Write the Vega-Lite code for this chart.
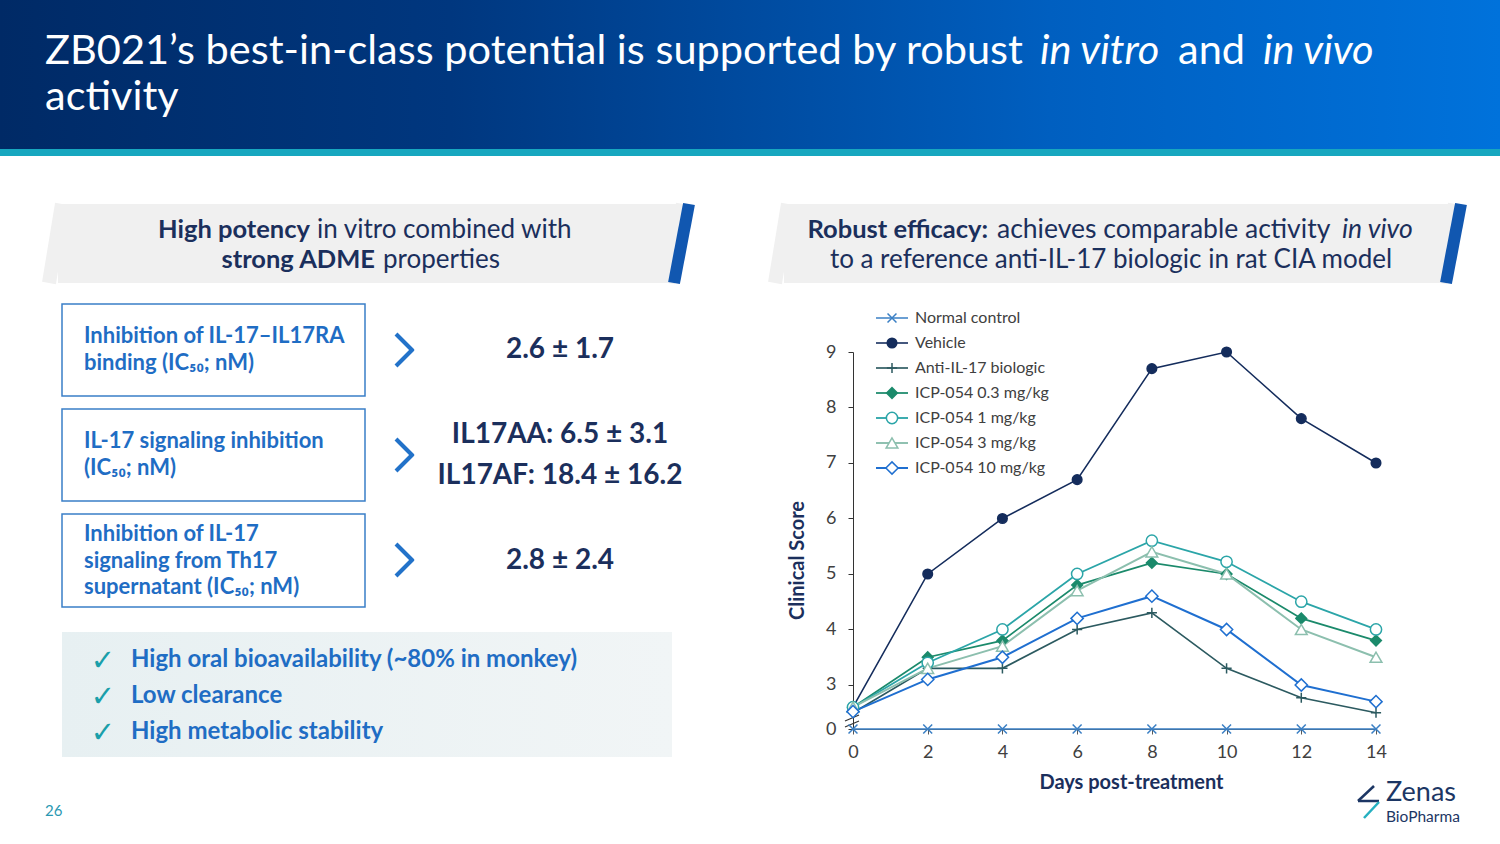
{
  "$schema": "https://vega.github.io/schema/vega-lite/v6.json",
  "width": 1500,
  "height": 844,
  "padding": 0,
  "autosize": {"type": "none"},
  "background": "#ffffff",
  "config": {"view": {"stroke": null}, "font": "Lato", "text": {"font": "Lato"}},
  "datasets": {
    "scores": [
      {"series": "Normal control", "day": 0, "score": 0}, {"series": "Normal control", "day": 2, "score": 0}, {"series": "Normal control", "day": 4, "score": 0}, {"series": "Normal control", "day": 6, "score": 0}, {"series": "Normal control", "day": 8, "score": 0}, {"series": "Normal control", "day": 10, "score": 0}, {"series": "Normal control", "day": 12, "score": 0}, {"series": "Normal control", "day": 14, "score": 0},
      {"series": "Vehicle", "day": 0, "score": 2.6}, {"series": "Vehicle", "day": 2, "score": 5.0}, {"series": "Vehicle", "day": 4, "score": 6.0}, {"series": "Vehicle", "day": 6, "score": 6.7}, {"series": "Vehicle", "day": 8, "score": 8.7}, {"series": "Vehicle", "day": 10, "score": 9.0}, {"series": "Vehicle", "day": 12, "score": 7.8}, {"series": "Vehicle", "day": 14, "score": 7.0},
      {"series": "Anti-IL-17 biologic", "day": 0, "score": 2.5}, {"series": "Anti-IL-17 biologic", "day": 2, "score": 3.3}, {"series": "Anti-IL-17 biologic", "day": 4, "score": 3.3}, {"series": "Anti-IL-17 biologic", "day": 6, "score": 4.0}, {"series": "Anti-IL-17 biologic", "day": 8, "score": 4.3}, {"series": "Anti-IL-17 biologic", "day": 10, "score": 3.3}, {"series": "Anti-IL-17 biologic", "day": 12, "score": 2.77}, {"series": "Anti-IL-17 biologic", "day": 14, "score": 2.5},
      {"series": "ICP-054 0.3 mg/kg", "day": 0, "score": 2.6}, {"series": "ICP-054 0.3 mg/kg", "day": 2, "score": 3.5}, {"series": "ICP-054 0.3 mg/kg", "day": 4, "score": 3.8}, {"series": "ICP-054 0.3 mg/kg", "day": 6, "score": 4.8}, {"series": "ICP-054 0.3 mg/kg", "day": 8, "score": 5.2}, {"series": "ICP-054 0.3 mg/kg", "day": 10, "score": 5.0}, {"series": "ICP-054 0.3 mg/kg", "day": 12, "score": 4.2}, {"series": "ICP-054 0.3 mg/kg", "day": 14, "score": 3.8},
      {"series": "ICP-054 1 mg/kg", "day": 0, "score": 2.6}, {"series": "ICP-054 1 mg/kg", "day": 2, "score": 3.4}, {"series": "ICP-054 1 mg/kg", "day": 4, "score": 4.0}, {"series": "ICP-054 1 mg/kg", "day": 6, "score": 5.0}, {"series": "ICP-054 1 mg/kg", "day": 8, "score": 5.6}, {"series": "ICP-054 1 mg/kg", "day": 10, "score": 5.22}, {"series": "ICP-054 1 mg/kg", "day": 12, "score": 4.5}, {"series": "ICP-054 1 mg/kg", "day": 14, "score": 4.0},
      {"series": "ICP-054 3 mg/kg", "day": 0, "score": 2.6}, {"series": "ICP-054 3 mg/kg", "day": 2, "score": 3.3}, {"series": "ICP-054 3 mg/kg", "day": 4, "score": 3.7}, {"series": "ICP-054 3 mg/kg", "day": 6, "score": 4.7}, {"series": "ICP-054 3 mg/kg", "day": 8, "score": 5.4}, {"series": "ICP-054 3 mg/kg", "day": 10, "score": 5.0}, {"series": "ICP-054 3 mg/kg", "day": 12, "score": 4.0}, {"series": "ICP-054 3 mg/kg", "day": 14, "score": 3.5},
      {"series": "ICP-054 10 mg/kg", "day": 0, "score": 2.52}, {"series": "ICP-054 10 mg/kg", "day": 2, "score": 3.1}, {"series": "ICP-054 10 mg/kg", "day": 4, "score": 3.5}, {"series": "ICP-054 10 mg/kg", "day": 6, "score": 4.2}, {"series": "ICP-054 10 mg/kg", "day": 8, "score": 4.6}, {"series": "ICP-054 10 mg/kg", "day": 10, "score": 4.0}, {"series": "ICP-054 10 mg/kg", "day": 12, "score": 3.0}, {"series": "ICP-054 10 mg/kg", "day": 14, "score": 2.7}
    ],
    "legend": [
      {"series": "Normal control"}, {"series": "Vehicle"}, {"series": "Anti-IL-17 biologic"}, {"series": "ICP-054 0.3 mg/kg"}, {"series": "ICP-054 1 mg/kg"}, {"series": "ICP-054 3 mg/kg"}, {"series": "ICP-054 10 mg/kg"}
    ]
  },
  "resolve": {"scale": {"x": "independent", "y": "independent", "color": "independent", "shape": "independent", "fill": "independent", "size": "independent", "strokeWidth": "independent"}},
  "layer": [
    {"data": {"values": [{}]}, "mark": {"type": "rect", "x": 0, "x2": 1500, "y": 0, "y2": 150, "fill": {"gradient": "linear", "x1": 0, "y1": 0, "x2": 1, "y2": 0, "stops": [{"offset": 0, "color": "#002a66"}, {"offset": 0.3, "color": "#00377f"}, {"offset": 0.7, "color": "#005fc0"}, {"offset": 1, "color": "#0072db"}]}}, "encoding": {}},
    {"data": {"values": [{}]}, "mark": {"type": "rect", "x": 0, "x2": 1500, "y": 149, "y2": 156, "fill": "#17a7bf"}, "encoding": {}},
    {"data": {"values": [{"t": "ZB021’s best-in-class potential is supported by robust"}]}, "mark": {"type": "text", "x": 45, "y": 64, "align": "left", "baseline": "alphabetic", "fontSize": 41.5, "color": "#ffffff"}, "encoding": {"text": {"field": "t"}}},
    {"data": {"values": [{"t": "in vitro"}]}, "mark": {"type": "text", "x": 1040, "y": 64, "align": "left", "baseline": "alphabetic", "fontSize": 41.5, "fontStyle": "italic", "color": "#ffffff"}, "encoding": {"text": {"field": "t"}}},
    {"data": {"values": [{"t": "and"}]}, "mark": {"type": "text", "x": 1178, "y": 64, "align": "left", "baseline": "alphabetic", "fontSize": 41.5, "color": "#ffffff"}, "encoding": {"text": {"field": "t"}}},
    {"data": {"values": [{"t": "in vivo"}]}, "mark": {"type": "text", "x": 1263, "y": 64, "align": "left", "baseline": "alphabetic", "fontSize": 41.5, "fontStyle": "italic", "color": "#ffffff"}, "encoding": {"text": {"field": "t"}}},
    {"data": {"values": [{"t": "activity"}]}, "mark": {"type": "text", "x": 45, "y": 110, "align": "left", "baseline": "alphabetic", "fontSize": 41.5, "color": "#ffffff"}, "encoding": {"text": {"field": "t"}}},

    {"data": {"values": [{}]}, "mark": {"type": "rect", "x": 58, "x2": 676, "y": 204, "y2": 283, "fill": "#f0f0f0"}, "encoding": {}},
    {"data": {"values": [{}]}, "mark": {"type": "rule", "stroke": "#f0f0f0", "strokeWidth": 14, "strokeCap": "butt"}, "encoding": {"x": {"value": 62}, "y": {"value": 204}, "x2": {"value": 49}, "y2": {"value": 283}}},
    {"data": {"values": [{}]}, "mark": {"type": "rule", "stroke": "#f0f0f0", "strokeWidth": 14, "strokeCap": "butt"}, "encoding": {"x": {"value": 683}, "y": {"value": 204}, "x2": {"value": 668}, "y2": {"value": 283}}},
    {"data": {"values": [{}]}, "mark": {"type": "rule", "stroke": "#1157b0", "strokeWidth": 12, "strokeCap": "butt"}, "encoding": {"x": {"value": 689}, "y": {"value": 204}, "x2": {"value": 674}, "y2": {"value": 283}}},
    {"data": {"values": [{"t": "High potency"}]}, "mark": {"type": "text", "x": 310, "y": 230, "align": "right", "baseline": "middle", "fontSize": 25.5, "fontWeight": "bold", "color": "#1b2f5c"}, "encoding": {"text": {"field": "t"}}},
    {"data": {"values": [{"t": "in vitro combined with"}]}, "mark": {"type": "text", "x": 317, "y": 230, "align": "left", "baseline": "middle", "fontSize": 26, "color": "#1b2f5c"}, "encoding": {"text": {"field": "t"}}},
    {"data": {"values": [{"t": "strong ADME"}]}, "mark": {"type": "text", "x": 375, "y": 260, "align": "right", "baseline": "middle", "fontSize": 25.5, "fontWeight": "bold", "color": "#1b2f5c"}, "encoding": {"text": {"field": "t"}}},
    {"data": {"values": [{"t": "properties"}]}, "mark": {"type": "text", "x": 383, "y": 260, "align": "left", "baseline": "middle", "fontSize": 26, "color": "#1b2f5c"}, "encoding": {"text": {"field": "t"}}},

    {"data": {"values": [{}]}, "mark": {"type": "rect", "x": 784, "x2": 1448, "y": 204, "y2": 283, "fill": "#f0f0f0"}, "encoding": {}},
    {"data": {"values": [{}]}, "mark": {"type": "rule", "stroke": "#f0f0f0", "strokeWidth": 14, "strokeCap": "butt"}, "encoding": {"x": {"value": 788}, "y": {"value": 204}, "x2": {"value": 775}, "y2": {"value": 283}}},
    {"data": {"values": [{}]}, "mark": {"type": "rule", "stroke": "#f0f0f0", "strokeWidth": 14, "strokeCap": "butt"}, "encoding": {"x": {"value": 1455}, "y": {"value": 204}, "x2": {"value": 1440}, "y2": {"value": 283}}},
    {"data": {"values": [{}]}, "mark": {"type": "rule", "stroke": "#1157b0", "strokeWidth": 12, "strokeCap": "butt"}, "encoding": {"x": {"value": 1461}, "y": {"value": 204}, "x2": {"value": 1446}, "y2": {"value": 283}}},
    {"data": {"values": [{"t": "Robust efficacy:"}]}, "mark": {"type": "text", "x": 988, "y": 230, "align": "right", "baseline": "middle", "fontSize": 25.5, "fontWeight": "bold", "color": "#1b2f5c"}, "encoding": {"text": {"field": "t"}}},
    {"data": {"values": [{"t": "achieves comparable activity"}]}, "mark": {"type": "text", "x": 997, "y": 230, "align": "left", "baseline": "middle", "fontSize": 26.5, "color": "#1b2f5c"}, "encoding": {"text": {"field": "t"}}},
    {"data": {"values": [{"t": "in vivo"}]}, "mark": {"type": "text", "x": 1342, "y": 230, "align": "left", "baseline": "middle", "fontSize": 26.5, "fontStyle": "italic", "color": "#1b2f5c"}, "encoding": {"text": {"field": "t"}}},
    {"data": {"values": [{"t": "to a reference anti-IL-17 biologic in rat CIA model"}]}, "mark": {"type": "text", "x": 1111, "y": 260, "align": "center", "baseline": "middle", "fontSize": 26, "color": "#1b2f5c"}, "encoding": {"text": {"field": "t"}}},

    {"data": {"values": [{}]}, "mark": {"type": "rect", "x": 62, "x2": 365, "y": 304, "y2": 396, "fill": "#ffffff", "stroke": "#3a7fc8", "strokeWidth": 1.5}, "encoding": {}},
    {"data": {"values": [{}]}, "mark": {"type": "rect", "x": 62, "x2": 365, "y": 409, "y2": 501, "fill": "#ffffff", "stroke": "#3a7fc8", "strokeWidth": 1.5}, "encoding": {}},
    {"data": {"values": [{}]}, "mark": {"type": "rect", "x": 62, "x2": 365, "y": 514, "y2": 607, "fill": "#ffffff", "stroke": "#3a7fc8", "strokeWidth": 1.5}, "encoding": {}},
    {"data": {"values": [{"t": "Inhibition of IL-17–IL17RA"}]}, "mark": {"type": "text", "x": 84, "y": 336, "align": "left", "baseline": "middle", "fontSize": 22, "fontWeight": "bold", "color": "#1f6dc4"}, "encoding": {"text": {"field": "t"}}},
    {"data": {"values": [{"t": "binding (IC₅₀; nM)"}]}, "mark": {"type": "text", "x": 84, "y": 363, "align": "left", "baseline": "middle", "fontSize": 22, "fontWeight": "bold", "color": "#1f6dc4"}, "encoding": {"text": {"field": "t"}}},
    {"data": {"values": [{"t": "IL-17 signaling inhibition"}]}, "mark": {"type": "text", "x": 84, "y": 441, "align": "left", "baseline": "middle", "fontSize": 22, "fontWeight": "bold", "color": "#1f6dc4"}, "encoding": {"text": {"field": "t"}}},
    {"data": {"values": [{"t": "(IC₅₀; nM)"}]}, "mark": {"type": "text", "x": 84, "y": 468, "align": "left", "baseline": "middle", "fontSize": 22, "fontWeight": "bold", "color": "#1f6dc4"}, "encoding": {"text": {"field": "t"}}},
    {"data": {"values": [{"t": "Inhibition of IL-17"}]}, "mark": {"type": "text", "x": 84, "y": 534, "align": "left", "baseline": "middle", "fontSize": 22, "fontWeight": "bold", "color": "#1f6dc4"}, "encoding": {"text": {"field": "t"}}},
    {"data": {"values": [{"t": "signaling from Th17"}]}, "mark": {"type": "text", "x": 84, "y": 561, "align": "left", "baseline": "middle", "fontSize": 22, "fontWeight": "bold", "color": "#1f6dc4"}, "encoding": {"text": {"field": "t"}}},
    {"data": {"values": [{"t": "supernatant (IC₅₀; nM)"}]}, "mark": {"type": "text", "x": 84, "y": 587, "align": "left", "baseline": "middle", "fontSize": 22, "fontWeight": "bold", "color": "#1f6dc4"}, "encoding": {"text": {"field": "t"}}},

    {"data": {"values": [{}]}, "mark": {"type": "rule", "stroke": "#2272c9", "strokeWidth": 4, "strokeCap": "butt"}, "encoding": {"x": {"value": 396}, "y": {"value": 334}, "x2": {"value": 413}, "y2": {"value": 351}}},
    {"data": {"values": [{}]}, "mark": {"type": "rule", "stroke": "#2272c9", "strokeWidth": 4, "strokeCap": "butt"}, "encoding": {"x": {"value": 413}, "y": {"value": 349}, "x2": {"value": 396}, "y2": {"value": 366}}},
    {"data": {"values": [{}]}, "mark": {"type": "rule", "stroke": "#2272c9", "strokeWidth": 4, "strokeCap": "butt"}, "encoding": {"x": {"value": 396}, "y": {"value": 439}, "x2": {"value": 413}, "y2": {"value": 456}}},
    {"data": {"values": [{}]}, "mark": {"type": "rule", "stroke": "#2272c9", "strokeWidth": 4, "strokeCap": "butt"}, "encoding": {"x": {"value": 413}, "y": {"value": 454}, "x2": {"value": 396}, "y2": {"value": 471}}},
    {"data": {"values": [{}]}, "mark": {"type": "rule", "stroke": "#2272c9", "strokeWidth": 4, "strokeCap": "butt"}, "encoding": {"x": {"value": 396}, "y": {"value": 544}, "x2": {"value": 413}, "y2": {"value": 561}}},
    {"data": {"values": [{}]}, "mark": {"type": "rule", "stroke": "#2272c9", "strokeWidth": 4, "strokeCap": "butt"}, "encoding": {"x": {"value": 413}, "y": {"value": 559}, "x2": {"value": 396}, "y2": {"value": 576}}},

    {"data": {"values": [{"t": "2.6 ± 1.7"}]}, "mark": {"type": "text", "x": 560, "y": 350, "align": "center", "baseline": "middle", "fontSize": 28, "fontWeight": "bold", "color": "#1b2f5c"}, "encoding": {"text": {"field": "t"}}},
    {"data": {"values": [{"t": "IL17AA: 6.5 ± 3.1"}]}, "mark": {"type": "text", "x": 560, "y": 435, "align": "center", "baseline": "middle", "fontSize": 28, "fontWeight": "bold", "color": "#1b2f5c"}, "encoding": {"text": {"field": "t"}}},
    {"data": {"values": [{"t": "IL17AF: 18.4 ± 16.2"}]}, "mark": {"type": "text", "x": 560, "y": 476, "align": "center", "baseline": "middle", "fontSize": 28, "fontWeight": "bold", "color": "#1b2f5c"}, "encoding": {"text": {"field": "t"}}},
    {"data": {"values": [{"t": "2.8 ± 2.4"}]}, "mark": {"type": "text", "x": 560, "y": 561, "align": "center", "baseline": "middle", "fontSize": 28, "fontWeight": "bold", "color": "#1b2f5c"}, "encoding": {"text": {"field": "t"}}},

    {"data": {"values": [{}]}, "mark": {"type": "rect", "x": 62, "x2": 672, "y": 632, "y2": 757, "fill": {"gradient": "linear", "x1": 0, "y1": 0, "x2": 1, "y2": 0, "stops": [{"offset": 0, "color": "#e7f0f2"}, {"offset": 1, "color": "#f1f5f6"}]}}, "encoding": {}},
    {"data": {"values": [{"t": "✓"}]}, "mark": {"type": "text", "x": 103, "y": 661, "align": "center", "baseline": "middle", "fontSize": 29, "fontWeight": "bold", "font": "DejaVu Sans", "color": "#1a9faa"}, "encoding": {"text": {"field": "t"}}},
    {"data": {"values": [{"t": "✓"}]}, "mark": {"type": "text", "x": 103, "y": 697, "align": "center", "baseline": "middle", "fontSize": 29, "fontWeight": "bold", "font": "DejaVu Sans", "color": "#1a9faa"}, "encoding": {"text": {"field": "t"}}},
    {"data": {"values": [{"t": "✓"}]}, "mark": {"type": "text", "x": 103, "y": 733, "align": "center", "baseline": "middle", "fontSize": 29, "fontWeight": "bold", "font": "DejaVu Sans", "color": "#1a9faa"}, "encoding": {"text": {"field": "t"}}},
    {"data": {"values": [{"t": "High oral bioavailability (~80% in monkey)"}]}, "mark": {"type": "text", "x": 131, "y": 660, "align": "left", "baseline": "middle", "fontSize": 24, "fontWeight": "bold", "color": "#1f6dc4"}, "encoding": {"text": {"field": "t"}}},
    {"data": {"values": [{"t": "Low clearance"}]}, "mark": {"type": "text", "x": 131, "y": 696, "align": "left", "baseline": "middle", "fontSize": 24, "fontWeight": "bold", "color": "#1f6dc4"}, "encoding": {"text": {"field": "t"}}},
    {"data": {"values": [{"t": "High metabolic stability"}]}, "mark": {"type": "text", "x": 131, "y": 732, "align": "left", "baseline": "middle", "fontSize": 24, "fontWeight": "bold", "color": "#1f6dc4"}, "encoding": {"text": {"field": "t"}}},

    {"data": {"values": [{"t": "26"}]}, "mark": {"type": "text", "x": 45, "y": 811, "align": "left", "baseline": "middle", "fontSize": 15, "color": "#2a98b2"}, "encoding": {"text": {"field": "t"}}},
    {"data": {"values": [{"t": "Zenas"}]}, "mark": {"type": "text", "x": 1386, "y": 793, "align": "left", "baseline": "middle", "fontSize": 27, "color": "#1c3664"}, "encoding": {"text": {"field": "t"}}},
    {"data": {"values": [{"t": "BioPharma"}]}, "mark": {"type": "text", "x": 1386, "y": 817, "align": "left", "baseline": "middle", "fontSize": 15.5, "color": "#1c3664"}, "encoding": {"text": {"field": "t"}}},
    {"data": {"values": [{}]}, "mark": {"type": "rule", "stroke": "#1c3664", "strokeWidth": 2.5}, "encoding": {"x": {"value": 1374}, "y": {"value": 786}, "x2": {"value": 1358}, "y2": {"value": 801}}},
    {"data": {"values": [{}]}, "mark": {"type": "rule", "stroke": "#1c3664", "strokeWidth": 2.5}, "encoding": {"x": {"value": 1358}, "y": {"value": 801}, "x2": {"value": 1379}, "y2": {"value": 801}}},
    {"data": {"values": [{}]}, "mark": {"type": "rule", "stroke": "#25b0c0", "strokeWidth": 2.5}, "encoding": {"x": {"value": 1379}, "y": {"value": 802}, "x2": {"value": 1364}, "y2": {"value": 818}}},

    {"data": {"values": [{}]}, "mark": {"type": "rule", "stroke": "#333333", "strokeWidth": 1.2}, "encoding": {"x": {"value": 845}, "y": {"value": 721}, "x2": {"value": 859}, "y2": {"value": 715}}},
    {"data": {"values": [{}]}, "mark": {"type": "rule", "stroke": "#333333", "strokeWidth": 1.2}, "encoding": {"x": {"value": 845}, "y": {"value": 727}, "x2": {"value": 859}, "y2": {"value": 721}}},

    {
      "data": {"name": "scores"},
      "encoding": {
        "x": {"field": "day", "type": "quantitative", "scale": {"domain": [0, 14], "range": [853, 1376], "nice": false, "zero": false},
          "axis": {"values": [0, 2, 4, 6, 8, 10, 12, 14], "offset": -115, "grid": false, "labelFlush": false, "title": "Days post-treatment", "titleX": 1131, "titleY": 53, "titleAlign": "center", "titleBaseline": "middle", "titleFont": "Lato", "titleFontSize": 20, "titleFontWeight": "bold", "titleColor": "#1b2f5c", "labelFont": "Lato", "labelFontSize": 18, "labelColor": "#404040", "labelPadding": 9, "domainColor": "#595959", "tickColor": "#595959", "tickSize": 5}},
        "y": {"field": "score", "type": "quantitative", "scale": {"domain": [0, 2.25, 9], "range": [729, 726.6, 352], "nice": false, "zero": false},
          "axis": {"values": [0, 3, 4, 5, 6, 7, 8, 9], "offset": -853, "grid": false, "labelFlush": false, "title": "Clinical Score", "titleX": -56, "titleY": 560, "titleAngle": -90, "titleAlign": "center", "titleBaseline": "middle", "titleFont": "Lato", "titleFontSize": 20, "titleFontWeight": "bold", "titleColor": "#1b2f5c", "labelFont": "Lato", "labelFontSize": 18, "labelColor": "#404040", "labelPadding": 12, "domainColor": "#333333", "tickColor": "#333333", "tickSize": 5}},
        "color": {"field": "series", "type": "nominal", "legend": null,
          "scale": {"domain": ["Normal control", "Vehicle", "Anti-IL-17 biologic", "ICP-054 0.3 mg/kg", "ICP-054 1 mg/kg", "ICP-054 3 mg/kg", "ICP-054 10 mg/kg"],
                    "range": ["#3a7fc4", "#142c5c", "#2c5a60", "#1b8a6b", "#2ba5a8", "#8cbfae", "#1f6fd0"]}}
      },
      "layer": [
        {"mark": {"type": "line"},
         "encoding": {"strokeWidth": {"field": "series", "type": "nominal", "legend": null,
           "scale": {"domain": ["Normal control", "Vehicle", "Anti-IL-17 biologic", "ICP-054 0.3 mg/kg", "ICP-054 1 mg/kg", "ICP-054 3 mg/kg", "ICP-054 10 mg/kg"], "range": [1.5, 2, 1.5, 2.2, 2.2, 2, 4]}}}},
        {"mark": {"type": "point", "filled": false, "opacity": 1, "strokeWidth": 1.5},
         "encoding": {
           "shape": {"field": "series", "type": "nominal", "legend": null,
             "scale": {"domain": ["Normal control", "Vehicle", "Anti-IL-17 biologic", "ICP-054 0.3 mg/kg", "ICP-054 1 mg/kg", "ICP-054 3 mg/kg", "ICP-054 10 mg/kg"], "range": ["M-1,-1L1,1M-1,1L1,-1", "circle", "M-1,0L1,0M0,-1L0,1", "diamond", "circle", "triangle-up", "diamond"]}},
           "fill": {"field": "series", "type": "nominal", "legend": null,
             "scale": {"domain": ["Normal control", "Vehicle", "Anti-IL-17 biologic", "ICP-054 0.3 mg/kg", "ICP-054 1 mg/kg", "ICP-054 3 mg/kg", "ICP-054 10 mg/kg"], "range": ["transparent", "#142c5c", "transparent", "#1b8a6b", "#ffffff", "#ffffff", "#ffffff"]}},
           "size": {"field": "series", "type": "nominal", "legend": null,
             "scale": {"domain": ["Normal control", "Vehicle", "Anti-IL-17 biologic", "ICP-054 0.3 mg/kg", "ICP-054 1 mg/kg", "ICP-054 3 mg/kg", "ICP-054 10 mg/kg"], "range": [80, 150, 150, 110, 110, 110, 110]}}
         }}
      ]
    },
    {
      "data": {"name": "legend"},
      "encoding": {
        "y": {"field": "series", "type": "nominal", "axis": null,
          "scale": {"type": "point", "padding": 0, "range": [318, 468], "domain": ["Normal control", "Vehicle", "Anti-IL-17 biologic", "ICP-054 0.3 mg/kg", "ICP-054 1 mg/kg", "ICP-054 3 mg/kg", "ICP-054 10 mg/kg"]}},
        "color": {"field": "series", "type": "nominal", "legend": null,
          "scale": {"domain": ["Normal control", "Vehicle", "Anti-IL-17 biologic", "ICP-054 0.3 mg/kg", "ICP-054 1 mg/kg", "ICP-054 3 mg/kg", "ICP-054 10 mg/kg"],
                    "range": ["#3a7fc4", "#142c5c", "#2c5a60", "#1b8a6b", "#2ba5a8", "#8cbfae", "#1f6fd0"]}}
      },
      "layer": [
        {"mark": {"type": "rule", "x": 876, "x2": 908},
         "encoding": {"strokeWidth": {"field": "series", "type": "nominal", "legend": null,
           "scale": {"domain": ["Normal control", "Vehicle", "Anti-IL-17 biologic", "ICP-054 0.3 mg/kg", "ICP-054 1 mg/kg", "ICP-054 3 mg/kg", "ICP-054 10 mg/kg"], "range": [1.5, 2, 1.5, 2.2, 2.2, 2, 4]}}}},
        {"mark": {"type": "point", "x": 892, "filled": false, "opacity": 1, "strokeWidth": 1.5},
         "encoding": {
           "shape": {"field": "series", "type": "nominal", "legend": null,
             "scale": {"domain": ["Normal control", "Vehicle", "Anti-IL-17 biologic", "ICP-054 0.3 mg/kg", "ICP-054 1 mg/kg", "ICP-054 3 mg/kg", "ICP-054 10 mg/kg"], "range": ["M-1,-1L1,1M-1,1L1,-1", "circle", "M-1,0L1,0M0,-1L0,1", "diamond", "circle", "triangle-up", "diamond"]}},
           "fill": {"field": "series", "type": "nominal", "legend": null,
             "scale": {"domain": ["Normal control", "Vehicle", "Anti-IL-17 biologic", "ICP-054 0.3 mg/kg", "ICP-054 1 mg/kg", "ICP-054 3 mg/kg", "ICP-054 10 mg/kg"], "range": ["transparent", "#142c5c", "transparent", "#1b8a6b", "#ffffff", "#ffffff", "#ffffff"]}},
           "size": {"field": "series", "type": "nominal", "legend": null,
             "scale": {"domain": ["Normal control", "Vehicle", "Anti-IL-17 biologic", "ICP-054 0.3 mg/kg", "ICP-054 1 mg/kg", "ICP-054 3 mg/kg", "ICP-054 10 mg/kg"], "range": [80, 150, 150, 110, 110, 110, 110]}}
         }},
        {"mark": {"type": "text", "x": 915, "align": "left", "baseline": "middle", "fontSize": 16, "font": "Lato"},
         "encoding": {"text": {"field": "series"}, "color": {"value": "#404040"}}}
      ]
    }
  ]
}
